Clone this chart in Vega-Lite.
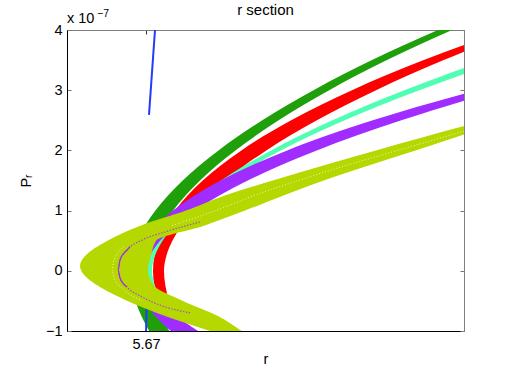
{
  "$schema": "https://vega.github.io/schema/vega-lite/v6.json",
  "width": 397,
  "height": 301,
  "autosize": {"type": "none"},
  "padding": {"left": 67, "top": 30, "right": 48, "bottom": 43},
  "background": "white",
  "config": {
    "font": "Liberation Sans",
    "view": {"stroke": "#808080", "strokeWidth": 1},
    "axis": {"grid": false, "labelFont": "Liberation Sans", "titleFont": "Liberation Sans", "labelColor": "black", "titleColor": "black", "labelFontSize": 14.5, "titleFontSize": 14.5, "titleFontWeight": "normal"}
  },
  "title": {"text": "r section", "fontSize": 15, "fontWeight": "normal", "color": "black", "offset": 0, "dy": 9, "font": "Liberation Sans"},
  "datasets": {
    "green": [
      {"P": 4.3, "ro": 5.70346, "ri": 5.70482}, {"P": 4.0, "ro": 5.6992, "ri": 5.70061}, {"P": 3.5, "ro": 5.6926, "ri": 5.6941},
      {"P": 3.0, "ro": 5.68675, "ri": 5.68832}, {"P": 2.5, "ro": 5.68163, "ri": 5.68326}, {"P": 2.0, "ro": 5.67725, "ri": 5.67894},
      {"P": 1.75, "ro": 5.67535, "ri": 5.67706}, {"P": 1.5, "ro": 5.67367, "ri": 5.67541}, {"P": 1.25, "ro": 5.6722, "ri": 5.67395},
      {"P": 1.0, "ro": 5.67094, "ri": 5.67271}, {"P": 0.75, "ro": 5.66991, "ri": 5.67169}, {"P": 0.5, "ro": 5.66913, "ri": 5.67092},
      {"P": 0.25, "ro": 5.66861, "ri": 5.67041}, {"P": 0, "ro": 5.6684, "ri": 5.6702}, {"P": -0.25, "ro": 5.66856, "ri": 5.67038},
      {"P": -0.5, "ro": 5.66895, "ri": 5.67082}, {"P": -0.75, "ro": 5.66954, "ri": 5.67147}, {"P": -1.0, "ro": 5.67032, "ri": 5.67234},
      {"P": -1.2, "ro": 5.67106, "ri": 5.67317}
    ],
    "red": [
      {"P": 4.3, "ro": 5.71159, "ri": 5.71233}, {"P": 4.0, "ro": 5.70607, "ri": 5.7074}, {"P": 3.5, "ro": 5.69778, "ri": 5.69977},
      {"P": 3.0, "ro": 5.6906, "ri": 5.69301}, {"P": 2.5, "ro": 5.68452, "ri": 5.68709}, {"P": 2.0, "ro": 5.67954, "ri": 5.68203},
      {"P": 1.75, "ro": 5.67747, "ri": 5.67984}, {"P": 1.5, "ro": 5.67567, "ri": 5.6779}, {"P": 1.25, "ro": 5.67415, "ri": 5.67619},
      {"P": 1.0, "ro": 5.67291, "ri": 5.67474}, {"P": 0.75, "ro": 5.67194, "ri": 5.67355}, {"P": 0.5, "ro": 5.67125, "ri": 5.67264},
      {"P": 0.25, "ro": 5.67084, "ri": 5.67204}, {"P": 0, "ro": 5.6707, "ri": 5.6718}, {"P": -0.25, "ro": 5.67084, "ri": 5.67194},
      {"P": -0.5, "ro": 5.67125, "ri": 5.6723}, {"P": -0.75, "ro": 5.67194, "ri": 5.67285}, {"P": -1.0, "ro": 5.67291, "ri": 5.67356},
      {"P": -1.2, "ro": 5.67388, "ri": 5.67424}
    ],
    "cyan": [
      {"P": 4.0, "ro": 5.71329, "ri": 5.71546}, {"P": 3.5, "ro": 5.70404, "ri": 5.70585}, {"P": 3.0, "ro": 5.69583, "ri": 5.69733},
      {"P": 2.5, "ro": 5.68865, "ri": 5.68987}, {"P": 2.0, "ro": 5.68251, "ri": 5.68349}, {"P": 1.75, "ro": 5.67985, "ri": 5.68073},
      {"P": 1.5, "ro": 5.6775, "ri": 5.67828}, {"P": 1.25, "ro": 5.67543, "ri": 5.67614}, {"P": 1.0, "ro": 5.67366, "ri": 5.6743},
      {"P": 0.75, "ro": 5.67222, "ri": 5.6728}, {"P": 0.5, "ro": 5.67112, "ri": 5.67166}, {"P": 0.25, "ro": 5.67039, "ri": 5.6709},
      {"P": 0, "ro": 5.6701, "ri": 5.6706}, {"P": -0.25, "ro": 5.67039, "ri": 5.6709}, {"P": -0.5, "ro": 5.67112, "ri": 5.67166},
      {"P": -0.75, "ro": 5.67222, "ri": 5.6728}, {"P": -1.0, "ro": 5.67366, "ri": 5.6743}, {"P": -1.2, "ro": 5.67504, "ri": 5.67579}
    ],
    "purple": [
      {"P": 4.0, "ro": 5.7298, "ri": 5.7314}, {"P": 3.5, "ro": 5.7155, "ri": 5.7167}, {"P": 3.0, "ro": 5.70315, "ri": 5.70543},
      {"P": 2.5, "ro": 5.69268, "ri": 5.69554}, {"P": 2.0, "ro": 5.68412, "ri": 5.68708}, {"P": 1.75, "ro": 5.68055, "ri": 5.68342},
      {"P": 1.5, "ro": 5.67746, "ri": 5.68018}, {"P": 1.25, "ro": 5.67485, "ri": 5.67734}, {"P": 1.0, "ro": 5.67271, "ri": 5.6749},
      {"P": 0.75, "ro": 5.67104, "ri": 5.67292}, {"P": 0.5, "ro": 5.66985, "ri": 5.67141}, {"P": 0.25, "ro": 5.66914, "ri": 5.6704},
      {"P": 0, "ro": 5.6689, "ri": 5.67}, {"P": -0.25, "ro": 5.66912, "ri": 5.67043}, {"P": -0.5, "ro": 5.6698, "ri": 5.6715},
      {"P": -0.75, "ro": 5.67092, "ri": 5.6731}, {"P": -1.0, "ro": 5.67249, "ri": 5.67521}, {"P": -1.2, "ro": 5.67406, "ri": 5.67722}
    ],
    "yellow": [
      {"P": 3.0, "ro": 5.71517, "ri": 5.7174}, {"P": 2.5, "ro": 5.70388, "ri": 5.70636}, {"P": 2.0, "ro": 5.69298, "ri": 5.69695},
      {"P": 1.75, "ro": 5.68773, "ri": 5.69226}, {"P": 1.5, "ro": 5.68268, "ri": 5.68777}, {"P": 1.25, "ro": 5.67788, "ri": 5.68375},
      {"P": 1.0, "ro": 5.674, "ri": 5.6799}, {"P": 0.75, "ro": 5.66943, "ri": 5.6758}, {"P": 0.5, "ro": 5.66614, "ri": 5.671},
      {"P": 0.25, "ro": 5.66393, "ri": 5.6705}, {"P": 0.08, "ro": 5.6634, "ri": 5.67023}, {"P": 0, "ro": 5.66353, "ri": 5.6702},
      {"P": -0.25, "ro": 5.66519, "ri": 5.6708}, {"P": -0.5, "ro": 5.66814, "ri": 5.6737}, {"P": -0.75, "ro": 5.67191, "ri": 5.6772},
      {"P": -1.0, "ro": 5.6764, "ri": 5.6796}, {"P": -1.2, "ro": 5.68005, "ri": 5.6816}
    ],
    "blue": [
      {"seg": "a", "i": 1, "P": 2.59, "r": 5.6703}, {"seg": "a", "i": 2, "P": 4.0, "r": 5.6709}, {"seg": "a", "i": 3, "P": 4.3, "r": 5.67103},
      {"seg": "b", "i": 1, "P": -1.2, "r": 5.66998}, {"seg": "b", "i": 2, "P": -0.45, "r": 5.67008}
    ],
    "thin": [
      {"i": 1, "P": 0.81, "r": 5.6754}, {"i": 2, "P": 0.645, "r": 5.6719}, {"i": 3, "P": 0.51, "r": 5.6696},
      {"i": 4, "P": 0.345, "r": 5.6681}, {"i": 5, "P": 0.18, "r": 5.6674}, {"i": 6, "P": 0.013, "r": 5.6672},
      {"i": 7, "P": -0.12, "r": 5.6674}, {"i": 8, "P": -0.27, "r": 5.6681}, {"i": 9, "P": -0.435, "r": 5.6696},
      {"i": 10, "P": -0.57, "r": 5.6714}, {"i": 11, "P": -0.70, "r": 5.6744}
    ],
    "thinsolid": [
      {"i": 1, "P": 0.40, "r": 5.6684}, {"i": 2, "P": 0.345, "r": 5.6681}, {"i": 3, "P": 0.18, "r": 5.6674},
      {"i": 4, "P": 0.013, "r": 5.6672}, {"i": 5, "P": -0.12, "r": 5.6674}, {"i": 6, "P": -0.27, "r": 5.6681}
    ],
    "white": [
      {"seg": "v", "i": 1, "P": 0.40, "r": 5.6678}, {"seg": "v", "i": 2, "P": 0.18, "r": 5.6668}, {"seg": "v", "i": 3, "P": 0.013, "r": 5.6666},
      {"seg": "v", "i": 4, "P": -0.12, "r": 5.6668}, {"seg": "v", "i": 5, "P": -0.3, "r": 5.6677}, {"seg": "v", "i": 6, "P": -0.5, "r": 5.6696},
      {"seg": "u", "i": 1, "P": 0.75, "r": 5.6726}, {"seg": "u", "i": 2, "P": 1.0, "r": 5.67695}, {"seg": "u", "i": 3, "P": 1.25, "r": 5.68082},
      {"seg": "u", "i": 4, "P": 1.5, "r": 5.68523}, {"seg": "u", "i": 5, "P": 1.75, "r": 5.69}, {"seg": "u", "i": 6, "P": 2.0, "r": 5.69516},
      {"seg": "u", "i": 7, "P": 2.4, "r": 5.7035}
    ],
    "note": [{"label": "x 10", "r": 5.6621, "P": 4}],
    "sup": [{"label": "−7", "r": 5.6621, "P": 4}]
  },
  "layer": [
    {
      "layer": [
        {
          "data": {"name": "green"},
          "mark": {"type": "area", "orient": "horizontal", "interpolate": "monotone", "color": "#1f9f0a", "clip": true},
          "encoding": {
            "y": {"field": "P", "type": "quantitative", "scale": {"domain": [-1, 4], "nice": false, "zero": false},
                  "axis": {"orient": "left", "values": [-1, 0, 1, 2, 3, 4], "format": "d", "tickSize": -4, "tickColor": "#777", "labelPadding": 9, "domainColor": "black", "title": "Pᵣ", "titlePadding": 12}},
            "x": {"field": "ro", "type": "quantitative", "scale": {"domain": [5.6621, 5.7018], "nice": false, "zero": false},
                  "axis": {"orient": "bottom", "values": [5.67], "format": ".2f", "tickSize": -4, "tickColor": "#333", "labelPadding": 10, "domainColor": "black", "title": "r", "titlePadding": 2}},
            "x2": {"field": "ri"}
          }
        },
        {
          "data": {"name": "red"},
          "mark": {"type": "area", "orient": "horizontal", "interpolate": "monotone", "color": "#ff0000", "clip": true},
          "encoding": {"y": {"field": "P", "type": "quantitative"}, "x": {"field": "ro", "type": "quantitative"}, "x2": {"field": "ri"}}
        },
        {
          "data": {"name": "cyan"},
          "mark": {"type": "area", "orient": "horizontal", "interpolate": "monotone", "color": "#50ffb4", "clip": true},
          "encoding": {"y": {"field": "P", "type": "quantitative"}, "x": {"field": "ro", "type": "quantitative"}, "x2": {"field": "ri"}}
        },
        {
          "data": {"name": "purple"},
          "mark": {"type": "area", "orient": "horizontal", "interpolate": "monotone", "color": "#a02cff", "clip": true},
          "encoding": {"y": {"field": "P", "type": "quantitative"}, "x": {"field": "ro", "type": "quantitative"}, "x2": {"field": "ri"}}
        },
        {
          "data": {"name": "blue"},
          "mark": {"type": "line", "color": "#1f3cff", "strokeWidth": 2, "clip": true},
          "encoding": {"y": {"field": "P", "type": "quantitative"}, "x": {"field": "r", "type": "quantitative"}, "detail": {"field": "seg"}, "order": {"field": "i"}}
        },
        {
          "data": {"name": "yellow"},
          "mark": {"type": "area", "orient": "horizontal", "interpolate": "monotone", "color": "#b5d900", "clip": true},
          "encoding": {"y": {"field": "P", "type": "quantitative"}, "x": {"field": "ro", "type": "quantitative"}, "x2": {"field": "ri"}}
        },
        {
          "data": {"name": "white"},
          "mark": {"type": "line", "color": "white", "strokeWidth": 1, "strokeDash": [1, 2], "opacity": 0.7, "interpolate": "monotone", "clip": true},
          "encoding": {"y": {"field": "P", "type": "quantitative"}, "x": {"field": "r", "type": "quantitative"}, "detail": {"field": "seg"}, "order": {"field": "i"}}
        },
        {
          "data": {"name": "thin"},
          "mark": {"type": "line", "color": "#a050d0", "strokeWidth": 1.2, "strokeDash": [1.5, 1.5], "interpolate": "monotone", "clip": true},
          "encoding": {"y": {"field": "P", "type": "quantitative"}, "x": {"field": "r", "type": "quantitative"}, "order": {"field": "i"}}
        },
        {
          "data": {"name": "thinsolid"},
          "mark": {"type": "line", "color": "#a030f0", "strokeWidth": 1.3, "interpolate": "monotone", "clip": true},
          "encoding": {"y": {"field": "P", "type": "quantitative"}, "x": {"field": "r", "type": "quantitative"}, "order": {"field": "i"}}
        },
        {
          "data": {"name": "note"},
          "mark": {"type": "text", "align": "left", "baseline": "alphabetic", "dy": -7, "fontSize": 14.5, "color": "black", "font": "Liberation Sans"},
          "encoding": {"y": {"field": "P", "type": "quantitative"}, "x": {"field": "r", "type": "quantitative"}, "text": {"field": "label"}}
        },
        {
          "data": {"name": "sup"},
          "mark": {"type": "text", "align": "left", "baseline": "alphabetic", "dx": 30, "dy": -13, "fontSize": 10.5, "color": "black", "font": "Liberation Sans"},
          "encoding": {"y": {"field": "P", "type": "quantitative"}, "x": {"field": "r", "type": "quantitative"}, "text": {"field": "label"}}
        }
      ]
    },
    {
      "data": {"values": [{"P": 0, "r": 5.68}]},
      "mark": {"type": "point", "opacity": 0},
      "encoding": {
        "y": {"field": "P", "type": "quantitative", "scale": {"domain": [-1, 4], "nice": false, "zero": false},
              "axis": {"orient": "right", "values": [-1, 0, 1, 2, 3, 4], "labels": false, "tickSize": -4, "tickColor": "#777", "domainColor": "#808080", "title": null}},
        "x": {"field": "r", "type": "quantitative", "scale": {"domain": [5.6621, 5.7018], "nice": false, "zero": false},
              "axis": {"orient": "top", "values": [5.67], "labels": false, "tickSize": -4, "tickColor": "#333", "domainColor": "#808080", "title": null}}
      }
    }
  ],
  "resolve": {"axis": {"x": "independent", "y": "independent"}}
}
